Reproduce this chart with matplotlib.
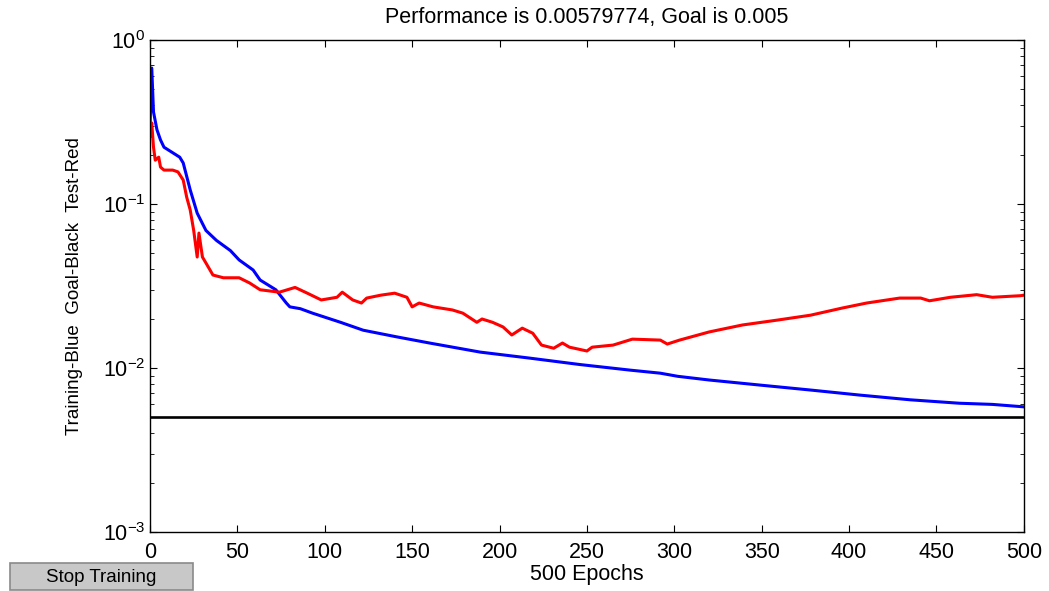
import numpy as np
import matplotlib
matplotlib.use("Agg")
import matplotlib.pyplot as plt
from matplotlib.patches import Rectangle
from matplotlib.ticker import LogLocator, MultipleLocator

plt.rcParams['font.family'] = ['Liberation Sans', 'DejaVu Sans']
plt.rcParams['mathtext.default'] = 'regular'

# training performance (blue)
train_epochs = [0, 1, 2, 4, 6, 8, 17, 19, 23, 27, 32, 38, 46, 51, 59, 63, 72, 78,
                80, 86, 93, 109, 122, 141, 160, 189, 217, 246, 275, 292, 302, 320,
                349, 378, 406, 435, 463, 482, 500]
train_perf = [0.30, 0.675, 0.364, 0.283, 0.246, 0.222, 0.193, 0.178, 0.122, 0.088,
              0.069, 0.060, 0.052, 0.0456, 0.0396, 0.0344, 0.030, 0.0249,
              0.0236, 0.023, 0.0216, 0.019, 0.017, 0.0155, 0.0142, 0.0125, 0.0115,
              0.0105, 0.0097, 0.0093, 0.0089, 0.00845, 0.00787, 0.00734, 0.00684,
              0.0064, 0.0061, 0.0060, 0.00579774]

# test performance (red)
test_epochs = [0, 1, 2, 3, 5, 6, 8, 13, 16, 19, 21, 23, 25, 27, 28, 30, 32, 36, 42,
               51, 57, 63, 74, 83, 90, 98, 107, 110, 116, 121, 124, 132, 140, 147,
               150, 154, 162, 173, 179, 187, 190, 196, 202, 207, 213, 219, 224, 231,
               236, 240, 250, 253, 265, 276, 292, 296, 303, 320, 339, 359, 378, 396,
               410, 429, 441, 446, 458, 473, 482, 498, 500]
test_perf = [0.26, 0.312, 0.222, 0.185, 0.193, 0.168, 0.161, 0.161, 0.157, 0.14,
             0.110, 0.092, 0.069, 0.0475, 0.0665, 0.0475, 0.0437, 0.0369, 0.0355,
             0.0355, 0.033, 0.030, 0.029, 0.031, 0.0286, 0.026, 0.027, 0.029, 0.026,
             0.0249, 0.0267, 0.0278, 0.0286, 0.027, 0.0236, 0.0249, 0.0236, 0.0226,
             0.0216, 0.019, 0.0199, 0.019, 0.0178, 0.0159, 0.0175, 0.0163, 0.0138,
             0.0132, 0.0142, 0.0134, 0.0127, 0.0134, 0.0138, 0.015, 0.0148, 0.014,
             0.0148, 0.0166, 0.0183, 0.0196, 0.021, 0.0232, 0.0249, 0.0267, 0.0267,
             0.0257, 0.027, 0.028, 0.027, 0.0276, 0.0278]

goal = 0.005
performance = 0.00579774
n_epochs = 500

fig = plt.figure(figsize=(10.49, 5.91), dpi=100)
ax = fig.add_axes([0.143, 0.0998, 0.833, 0.8325])

ax.semilogy(train_epochs, train_perf, color='#0000ff', lw=2.2)
ax.semilogy(test_epochs, test_perf, color='#ff0000', lw=2.2)
ax.axhline(goal, color='black', lw=1.9)

ax.set_xlim(0, n_epochs)
ax.set_ylim(1e-3, 1e0)
ax.xaxis.set_major_locator(MultipleLocator(50))
ax.yaxis.set_major_locator(LogLocator(base=10))
ax.yaxis.set_minor_locator(LogLocator(base=10, subs=np.arange(2, 10)))
ax.tick_params(which='both', direction='in', top=True, right=True, labelsize=15.5)
ax.tick_params(axis='x', pad=7)
ax.tick_params(which='major', length=5, width=0.8)
ax.tick_params(which='minor', length=3, width=0.6)
for s in ax.spines.values():
    s.set_linewidth(1.0)

ax.set_title(f"Performance is {performance}, Goal is {goal}", fontsize=15.5, pad=12)
ax.set_xlabel(f"{n_epochs} Epochs", fontsize=15.5, labelpad=1)
ax.set_ylabel("Training-Blue  Goal-Black  Test-Red", fontsize=13.5, labelpad=14)

# "Stop Training" button
btn = Rectangle((10 / 1049, 1 - 590 / 591), 183 / 1049, 27 / 591,
                transform=fig.transFigure, facecolor='#c8c8c8',
                edgecolor='#8a8a8a', lw=1.2)
fig.patches.append(btn)
fig.text(101 / 1049, 1 - 577 / 591, "Stop Training", ha='center', va='center',
         fontsize=13.5)

fig.savefig("out.png", dpi=100)
